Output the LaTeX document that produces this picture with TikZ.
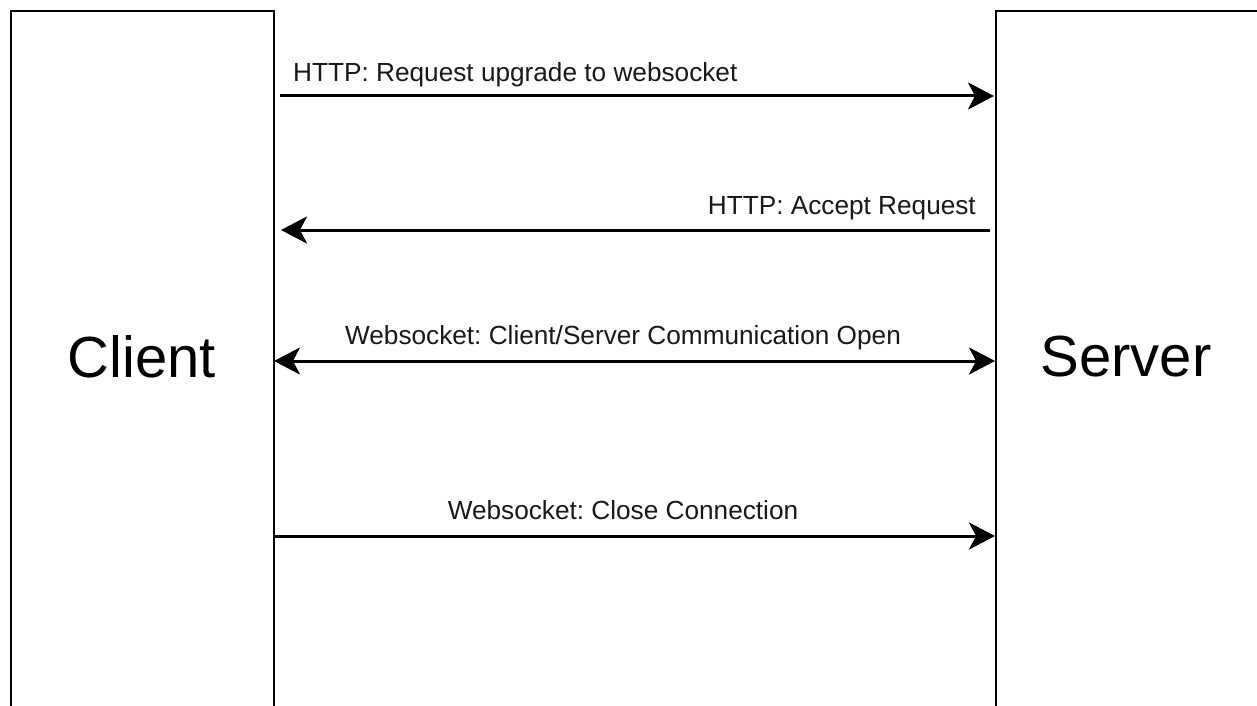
\documentclass[tikz,border=0pt]{standalone}
\usepackage{fontspec}
\setmainfont{Liberation Sans}
\usetikzlibrary{arrows.meta}
\frenchspacing
\begin{document}
\begin{tikzpicture}[x=1pt,y=-1pt,
  party/.style={draw=black, line width=2pt, fill=white, inner sep=0pt},
  partylabel/.style={font=\fontsize{58}{60}\selectfont, inner sep=0pt},
  head/.tip={Stealth[length=26pt, width=27pt, inset=7pt]},
  msg/.style={line width=3pt, -head},
  msgboth/.style={line width=3pt, head-head},
  msglabel/.style={font=\fontsize{26.2}{28}\selectfont, text=black!90, inner sep=0pt}]
  \useasboundingbox (0,0) rectangle (1257,706);
  \clip (0,0) rectangle (1257,706);
  \fill[white] (0,0) rectangle (1257,706);

  % the two parties
  \draw[party] (11,11) rectangle (274,720);
  \draw[party] (996,11) rectangle (1270,720);
  \node[partylabel] (client) at (142,357) {Client};
  \node[partylabel] (server) at (1126,357) {Server};

  % end points of the messages on the two boxes
  \coordinate (c1) at (280,96);   \coordinate (s1) at (994,96);
  \coordinate (s2) at (990,230);  \coordinate (c2) at (281,230);
  \coordinate (c3) at (274,361);  \coordinate (s3) at (995,361);
  \coordinate (c4) at (274,536);  \coordinate (s4) at (995,536);

  % messages
  \draw[msg] (c1) -- (s1);
  \node[msglabel, anchor=base west] (l1) at (293,82) {HTTP: Request upgrade to websocket};

  \draw[msg] (s2) -- (c2);
  \node[msglabel, anchor=base east] (l2) at (976,214) {HTTP: Accept Request};

  \draw[msgboth] (c3) -- (s3);
  \node[msglabel, anchor=base] (l3) at (623,344) {Websocket: Client/Server Communication Open};

  \draw[msg] (c4) -- (s4);
  \node[msglabel, anchor=base] (l4) at (623,519) {Websocket: Close Connection};
\end{tikzpicture}
\end{document}
